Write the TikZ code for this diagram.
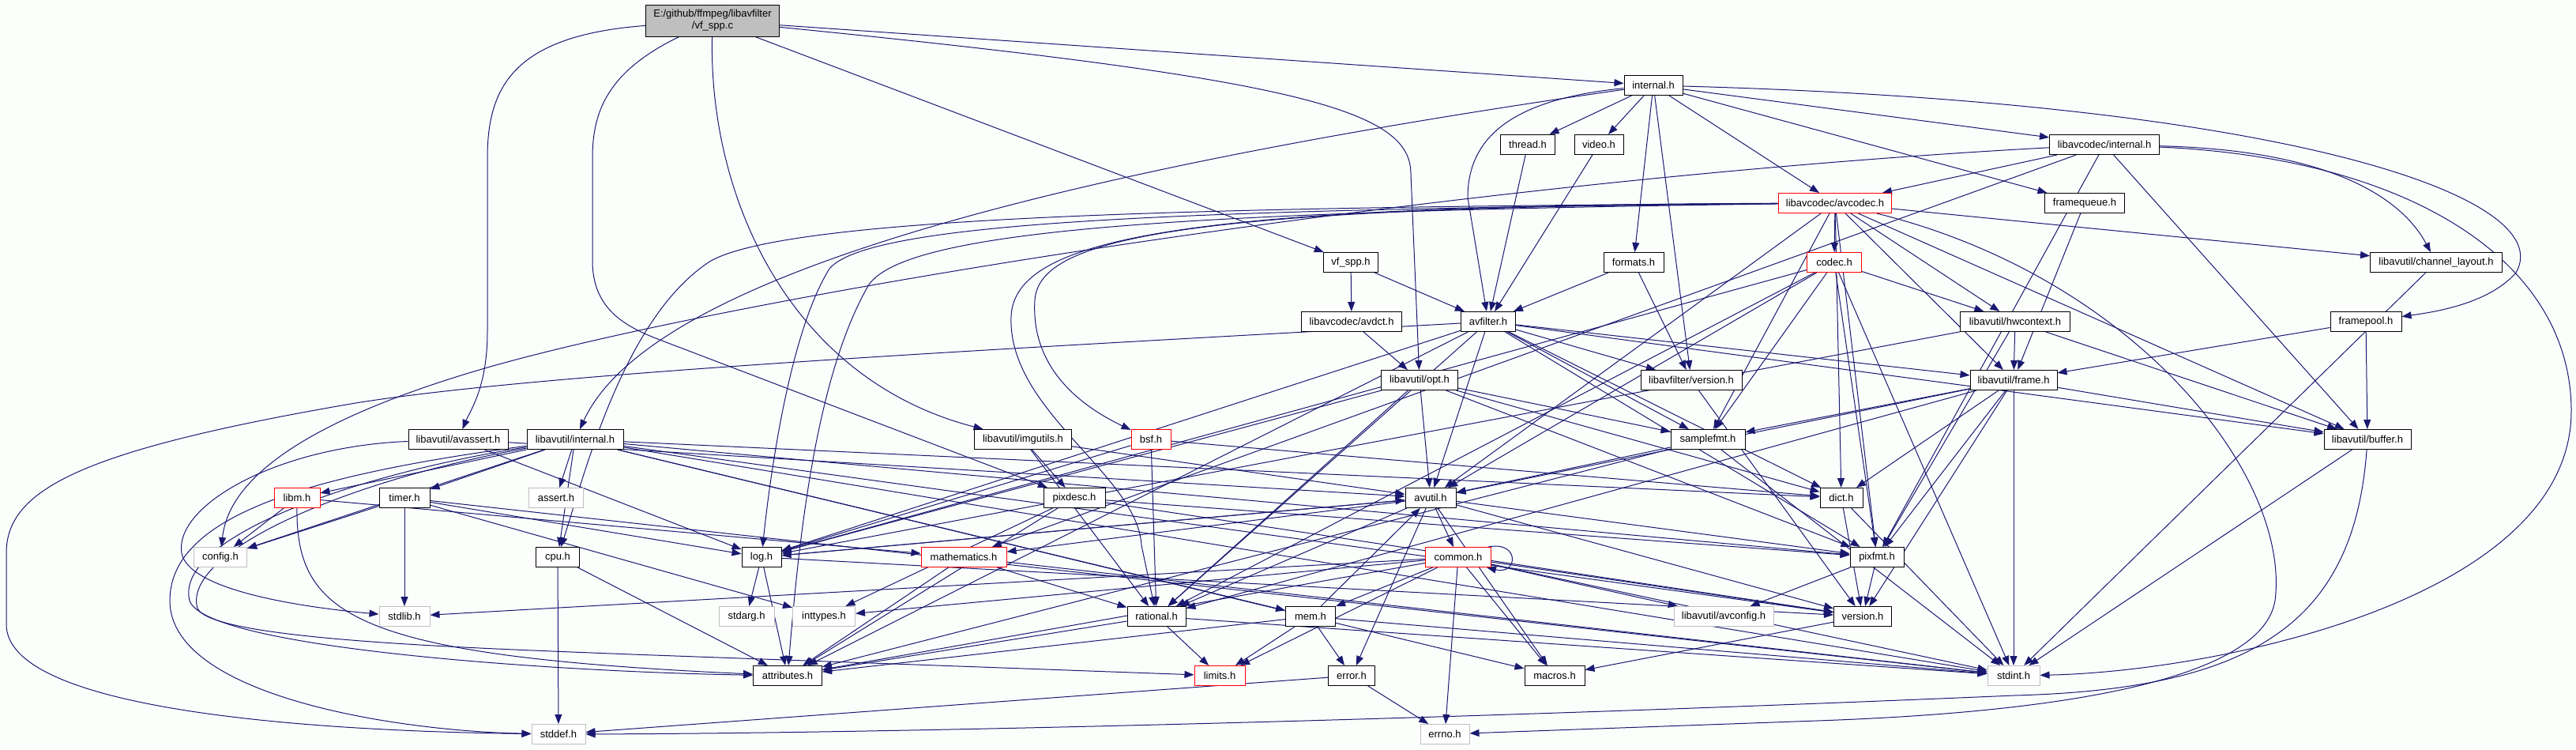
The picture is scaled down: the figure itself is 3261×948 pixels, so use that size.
\documentclass[tikz,border=0pt]{standalone}
\usepackage{fontspec}
\setmainfont{Liberation Sans}
\usetikzlibrary{arrows.meta}
\definecolor{edgec}{RGB}{25,25,112}
\definecolor{grayb}{RGB}{191,191,191}
\definecolor{rootfill}{RGB}{191,191,191}
\definecolor{bgc}{RGB}{252,254,252}
\pgfdeclarelayer{bglayer}
\pgfdeclarelayer{edgelayer}
\pgfsetlayers{bglayer,edgelayer,main}
\tikzset{
  nd/.style={draw=black, fill=white, line width=1pt, font=\fontsize{13}{15}\selectfont,
     minimum height=25pt, inner sep=1pt, text=black},
  rednd/.style={nd, draw=red},
  graynd/.style={nd, draw=grayb},
  conn/.style={draw=edgec, line width=1pt, -{Triangle[length=12pt,width=9pt]}},
}
\begin{document}
\begin{tikzpicture}[x=1pt,y=-1pt]
\begin{pgfonlayer}{bglayer}
\fill[bgc] (0,0) rectangle (3261,948);
\end{pgfonlayer}
\useasboundingbox (0,0) rectangle (3261,948);
% row 0
\node[nd, fill=rootfill, minimum width=169pt, minimum height=40pt, align=center] (root) at (902,26) {E:/github/ffmpeg/libavfilter\\/vf\_spp.c};
% row 1
\node[nd, minimum width=74pt] (inth) at (2093,108) {internal.h};
% row 2
\node[nd, minimum width=69pt] (thread) at (1934,183) {thread.h};
\node[nd, minimum width=62pt] (video) at (2024,183) {video.h};
\node[nd, minimum width=139pt] (lavcint) at (2664,183) {libavcodec/internal.h};
% row 3
\node[rednd, minimum width=143pt] (avcodec) at (2323,257) {libavcodec/avcodec.h};
\node[nd, minimum width=101pt] (fqueue) at (2639,257) {framequeue.h};
% row 4
\node[nd, minimum width=69pt] (vfspph) at (1710,332) {vf\_spp.h};
\node[nd, minimum width=76pt] (formats) at (2068,332) {formats.h};
\node[rednd, minimum width=69pt] (codec) at (2322,332) {codec.h};
\node[nd, minimum width=167pt] (chlayout) at (3084,332) {libavutil/channel\_layout.h};
% row 5
\node[nd, minimum width=127pt] (avdct) at (1711,407) {libavcodec/avdct.h};
\node[nd, minimum width=69pt] (avfilter) at (1884,407) {avfilter.h};
\node[nd, minimum width=139pt] (hwctx) at (2551,407) {libavutil/hwcontext.h};
\node[nd, minimum width=90pt] (fpool) at (2995,407) {framepool.h};
% row 6
\node[nd, minimum width=97pt] (opt) at (1797,481) {libavutil/opt.h};
\node[nd, minimum width=128pt] (lafver) at (2141,481) {libavfilter/version.h};
\node[nd, minimum width=110pt] (frame) at (2549,481) {libavutil/frame.h};
% row 7
\node[nd, minimum width=126pt] (avassert) at (580,556) {libavutil/avassert.h};
\node[nd, minimum width=122pt] (lauint) at (728,556) {libavutil/internal.h};
\node[nd, minimum width=123pt] (imgutils) at (1295,556) {libavutil/imgutils.h};
\node[rednd, minimum width=50pt] (bsf) at (1457,556) {bsf.h};
\node[nd, minimum width=94pt] (sfmt) at (2162,556) {samplefmt.h};
\node[nd, minimum width=110pt] (buffer) at (2997,556) {libavutil/buffer.h};
% row 8
\node[rednd, minimum width=58pt] (libm) at (376,630) {libm.h};
\node[nd, minimum width=64pt] (timer) at (512,630) {timer.h};
\node[graynd, minimum width=69pt] (assert) at (704,630) {assert.h};
\node[nd, minimum width=78pt] (pixdesc) at (1360,630) {pixdesc.h};
\node[nd, minimum width=64pt] (avutil) at (1811,630) {avutil.h};
\node[nd, minimum width=54pt] (dict) at (2331,630) {dict.h};
% row 9
\node[graynd, minimum width=67pt] (config) at (279,705) {config.h};
\node[nd, minimum width=55pt] (cpu) at (706,705) {cpu.h};
\node[nd, minimum width=50pt] (log) at (964,705) {log.h};
\node[rednd, minimum width=108pt] (math) at (1220,705) {mathematics.h};
\node[rednd, minimum width=83pt] (common) at (1846,705) {common.h};
\node[nd, minimum width=68pt] (pixfmt) at (2376,705) {pixfmt.h};
% row 10
\node[graynd, minimum width=64pt] (stdlib) at (512,780) {stdlib.h};
\node[graynd, minimum width=70pt] (stdarg) at (945,780) {stdarg.h};
\node[graynd, minimum width=79pt] (inttypes) at (1043,780) {inttypes.h};
\node[nd, minimum width=74pt] (rational) at (1464,780) {rational.h};
\node[nd, minimum width=63pt] (mem) at (1659,780) {mem.h};
\node[graynd, minimum width=126pt] (avconfig) at (2182,780) {libavutil/avconfig.h};
\node[nd, minimum width=73pt] (version) at (2358,780) {version.h};
% row 11
\node[nd, minimum width=87pt] (attrib) at (997,855) {attributes.h};
\node[rednd, minimum width=64pt] (limits) at (1544,855) {limits.h};
\node[nd, minimum width=59pt] (error) at (1711,855) {error.h};
\node[nd, minimum width=76pt] (macros) at (1968,855) {macros.h};
\node[graynd, minimum width=66pt] (stdint) at (2549,855) {stdint.h};
% row 12
\node[graynd, minimum width=68pt] (stddef) at (707,929) {stddef.h};
\node[graynd, minimum width=62pt] (errno) at (1829,929) {errno.h};

\begin{pgfonlayer}{edgelayer}
\foreach \a/\b in {root/vfspph, root/inth,
 inth/formats, inth/fqueue, inth/thread, inth/lafver, inth/video, inth/avcodec, inth/lavcint,
 thread/avfilter, video/avfilter, formats/avfilter, formats/lafver, fqueue/frame, fpool/buffer, fpool/frame,
 vfspph/avdct, vfspph/avfilter, avdct/opt,
 lavcint/buffer, lavcint/math, lavcint/pixfmt, lavcint/avcodec,
 avfilter/attrib, avfilter/avutil, avfilter/buffer, avfilter/dict, avfilter/frame, avfilter/log, avfilter/sfmt,
 avfilter/pixfmt, avfilter/rational, avfilter/lafver,
 lafver/version,
 opt/rational, opt/avutil, opt/dict, opt/log, opt/pixfmt, opt/sfmt,
 sfmt/stdint, sfmt/avutil, sfmt/attrib,
 dict/stdint, dict/version,
 avutil/common, avutil/error, avutil/rational, avutil/version, avutil/macros, avutil/math, avutil/log, avutil/pixfmt,
 common/errno, common/inttypes, common/limits, common/stdint, common/stdlib, common/attrib, common/macros,
 common/version, common/avconfig, common/mem,
 mem/limits, mem/stdint, mem/attrib, mem/error, mem/avutil,
 error/errno, error/stddef, version/macros, pixfmt/avconfig, pixfmt/version,
 log/stdarg, log/avutil, log/attrib, log/version,
 math/stdint, math/attrib, math/rational,
 rational/stdint, rational/limits, rational/attrib,
 frame/stdint, frame/avutil, frame/buffer, frame/dict, frame/rational, frame/sfmt, frame/pixfmt, frame/version,
 hwctx/buffer, hwctx/frame, hwctx/log, hwctx/pixfmt,
 buffer/stdint, chlayout/stdint,
 codec/stdint, codec/avutil, codec/hwctx, codec/log, codec/pixfmt, codec/rational, codec/sfmt,
 avcodec/sfmt, avcodec/avutil, avcodec/buffer, avcodec/chlayout, avcodec/dict,
 avcodec/frame, avcodec/hwctx, avcodec/pixfmt, avcodec/codec,
 bsf/dict, bsf/log, bsf/rational,
 avassert/avutil, avassert/log,
 imgutils/avutil, imgutils/pixdesc, imgutils/rational,
 pixdesc/inttypes, pixdesc/attrib, pixdesc/pixfmt, pixdesc/version,
 lauint/stdint, lauint/assert, lauint/config, lauint/timer, lauint/cpu, lauint/dict, lauint/macros, lauint/mem,
 lauint/pixfmt, lauint/version, lauint/libm,
 timer/config, timer/stdlib, timer/stdint, timer/inttypes, timer/log,
 libm/config, libm/math, cpu/stddef, cpu/attrib}
 { \draw[conn] (\a) -- (\b); }
% curved connectors
\draw[conn] (root) .. controls (650,45) and (617,110) .. (617,200) -- (617,420) .. controls (617,490) and (595,520) .. (avassert);
\draw[conn] (root) .. controls (770,90) and (750,140) .. (750,200) -- (750,330) .. controls (750,390) and (790,412) .. (830,428) -- (pixdesc);
\draw[conn] (root) .. controls (897,250) and (1000,480) .. (imgutils);
\draw[conn] (root) .. controls (1650,100) and (1786,140) .. (1786,220) -- (opt);
\draw[conn] (inth) .. controls (1100,250) and (800,400) .. (lauint);
\draw[conn] (inth) .. controls (1920,125) and (1858,170) .. (1858,250) -- (avfilter);
\draw[conn] (inth) .. controls (2900,130) and (3240,250) .. (3185,345) .. controls (3150,385) and (3080,395) .. (fpool);
\draw[conn] (lavcint) .. controls (3050,200) and (3255,330) .. (3255,520) .. controls (3255,760) and (2800,850) .. (stdint);
\draw[conn] (lavcint) .. controls (2950,190) and (3040,250) .. (chlayout);
\draw[conn] (lavcint) .. controls (1800,230) and (900,380) .. (600,470) .. controls (400,530) and (290,600) .. (config);
\draw[conn] (avcodec) .. controls (1500,262) and (1315,300) .. (1310,380) .. controls (1305,460) and (1360,510) .. (bsf);
\draw[conn] (avcodec) .. controls (1500,260) and (1285,300) .. (1280,400) .. controls (1275,520) and (1440,600) .. (1445,690) -- (rational);
\draw[conn] (avcodec) .. controls (1500,265) and (1100,280) .. (1050,340) .. controls (1000,420) and (975,600) .. (log);
\draw[conn] (avcodec) .. controls (1500,268) and (1150,290) .. (1100,360) .. controls (1030,480) and (1010,700) .. (attrib);
\draw[conn] (avcodec) .. controls (1500,262) and (1000,275) .. (900,330) .. controls (790,400) and (740,600) .. (cpu);
\draw[conn] (avfilter) .. controls (1300,440) and (700,470) .. (450,510) .. controls (100,570) and (8,620) .. (8,700) -- (8,790) .. controls (8,900) and (400,925) .. (stddef);
\draw[conn] (buffer) .. controls (2980,790) and (2850,872) .. (2550,880) .. controls (1800,912) and (1100,928) .. (stddef);
\draw[conn] (avcodec) .. controls (2700,350) and (2900,600) .. (2880,760) .. controls (2860,880) and (2500,905) .. (2300,912) -- (errno);
\draw[conn] (avassert) .. controls (350,565) and (220,640) .. (230,700) .. controls (240,750) and (400,770) .. (stdlib);
\draw[conn] (lauint) .. controls (400,600) and (215,650) .. (215,760) .. controls (215,880) and (500,925) .. (stddef);
\draw[conn] (lauint) .. controls (450,600) and (220,680) .. (240,760) .. controls (260,820) and (700,850) .. (attrib);
\draw[conn] (lauint) .. controls (430,610) and (230,700) .. (250,770) .. controls (270,810) and (600,820) .. (800,828) -- (limits);
\draw[conn] (libm) .. controls (375,780) and (450,830) .. (attrib);
\draw[conn] ([xshift=-4pt]common.north east) .. controls +(40,-8) and +(40,10) .. ([xshift=-6pt]common.south east);
\end{pgfonlayer}
\end{tikzpicture}
\end{document}
